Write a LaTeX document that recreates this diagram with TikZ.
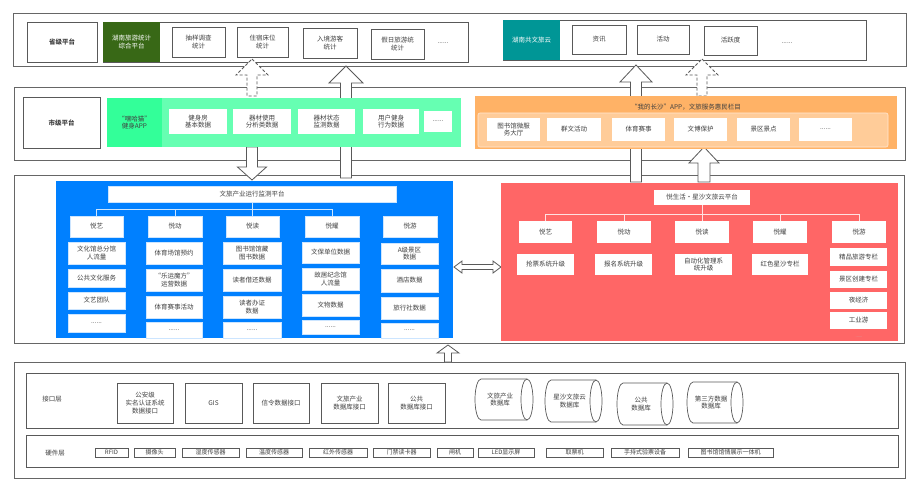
\documentclass[tikz,border=0pt]{standalone}
\usepackage{fontspec}
\setmainfont{Noto Sans CJK SC}
\definecolor{txt}{HTML}{404040}
\definecolor{frm}{HTML}{666666}
\definecolor{bgray}{HTML}{595959}
\definecolor{dgreen}{RGB}{56,104,22}
\definecolor{teal1}{RGB}{0,150,150}
\definecolor{bgreen}{RGB}{51,255,153}
\definecolor{lgreen}{RGB}{102,255,178}
\definecolor{orange1}{RGB}{255,178,102}
\definecolor{orange2}{RGB}{255,204,153}
\definecolor{orange3}{RGB}{255,232,210}
\definecolor{blue1}{RGB}{0,128,255}
\definecolor{red1}{RGB}{255,102,102}
\definecolor{btree}{RGB}{204,229,255}
\definecolor{ctree}{RGB}{255,225,225}
\newcommand\fs{\fontsize{6.5}{7.8}\selectfont}
\newcommand\hs{\fontsize{6}{7}\selectfont}
\newcommand\bx[7]{\node[#6,minimum width={(#4)-(#2)},minimum height={(#5)-(#3)}] (#1) at ({((#2)+(#4))/2},{((#3)+(#5))/2}) {#7};}
\newcommand\varr[7]{\draw[#7] (#1,#2) -- ({#1+#5},#3) -- ({#1+#6},#3) -- ({#1+#6},#4) -- ({#1-#6},#4) -- ({#1-#6},#3) -- ({#1-#5},#3) -- cycle;}
\newcommand\cyl[6]{%
  \draw[wb] ({#4-6},#3) -- ({#2+6},#3) arc[start angle=90,end angle=270,x radius=6pt,y radius={((#5)-(#3))/2*1pt}] -- ({#4-6},#5);
  \draw[wb] ({#4-6},{((#3)+(#5))/2}) ellipse[x radius=6pt,y radius={((#5)-(#3))/2*1pt}];
  \node (#1) at ({((#2)+(#4))/2-4},{((#3)+(#5))/2}) {#6};}
\begin{document}
\begin{tikzpicture}[x=1pt,y=-1pt,
  every node/.style={font=\fs,text=txt,inner sep=0pt,outer sep=0pt,align=center},
  frame/.style={draw=frm,line width=0.9pt,fill=white},
  wb/.style={draw=bgray,line width=0.7pt,fill=white},
  pb/.style={fill=white},
  bb/.style={fill=white,draw=btree,line width=0.5pt},
  hb/.style={wb,line width=0.8pt,font=\hs},
  harr/.style={draw=bgray,fill=white,line width=0.8pt},
  darr/.style={harr,dash pattern=on 3pt off 2pt},
  btl/.style={draw=btree,line width=0.8pt},
  ctl/.style={draw=ctree,line width=0.8pt}]
\useasboundingbox (0,0) rectangle (921,491);
\fill[white] (0,0) rectangle (921,491);
% frames
\bx{fTop}{13}{13}{906}{66}{frame}{}
\bx{fMid}{14}{87}{905}{160}{frame}{}
\bx{fThird}{14}{175}{904}{343}{frame}{}
\bx{fBot}{14}{362}{905}{478}{frame}{}
% top contents
\bx{sj}{27}{22}{97}{62}{wb,font=\fs\bfseries}{省级平台}
\bx{tinL}{103}{22}{468}{62}{wb}{}
\bx{hn}{103}{22}{160}{62}{fill=dgreen,text=white}{湖南旅游统计\\综合平台}
\bx{t1}{172}{27}{225}{57}{wb}{抽样调查\\统计}
\bx{t2}{237}{27}{288}{57}{wb}{住宿床位\\统计}
\bx{t3}{303}{28}{357}{58}{wb}{入境游客\\统计}
\bx{t4}{371}{29}{424}{59}{wb}{假日旅游统\\统计}
\node (t5) at (443,43) {......};
\bx{tinR}{503}{20}{866}{60}{wb}{}
\bx{gw}{503}{20}{560}{60}{fill=teal1,text=white}{湖南共文旅云}
\bx{r1}{572}{25}{626}{54}{wb}{资讯}
\bx{r2}{637}{25}{689}{54}{wb}{活动}
\bx{r3}{704}{26}{757}{55}{wb}{活跃度}
\node (r4) at (787,43) {......};
% block arrows
\varr{252}{59}{75}{96}{16}{5}{darr}
\varr{346}{66}{83}{178}{17}{5.5}{harr}
\varr{636}{65}{82}{182}{16}{5.5}{harr}
\varr{702}{59}{75}{96}{16}{5}{darr}
\varr{252}{180}{167}{147}{14.5}{5.5}{harr}
\varr{704}{147}{163}{182}{15}{6}{harr}
\varr{448}{345}{353}{362}{11}{3.5}{harr}
\draw[harr] (454,267) -- (462,261) -- (462,264.5) -- (493,264.5) -- (493,261) -- (501,267) -- (493,273) -- (493,269.5) -- (462,269.5) -- (462,273) -- cycle;
% middle contents
\bx{sj2}{23}{97}{100}{148}{wb,font=\fs\bfseries}{市级平台}
\bx{gp}{162}{98}{461}{147}{fill=lgreen}{}
\bx{hh}{107}{98}{162}{147}{fill=bgreen}{“嘿哈猫”\\健身APP}
\bx{m1}{169}{109}{227}{134}{pb}{健身房\\基本数据}
\bx{m2}{233}{109}{291}{134}{pb}{器材使用\\分析类数据}
\bx{m3}{298}{109}{355}{134}{pb}{器材状态\\监测数据}
\bx{m4}{363}{109}{419}{134}{pb}{用户健身\\行为数据}
\bx{m5}{424}{111}{452}{132}{pb}{......}
\bx{op}{475}{96}{897}{149}{fill=orange1}{}
\node (ot) at (686,107) {“我的长沙”APP，文旅服务惠民栏目};
\bx{oi}{478}{113}{888}{147}{fill=orange2,draw=orange3,line width=0.6pt,rounded corners=2pt}{}
\bx{o1}{487}{118}{540}{141}{pb}{图书馆微服\\务大厅}
\bx{o2}{547}{118}{601}{141}{pb}{群文活动}
\bx{o3}{612}{118}{665}{141}{pb}{体育赛事}
\bx{o4}{674}{118}{727}{141}{pb}{文博保护}
\bx{o5}{737}{118}{790}{141}{pb}{景区景点}
\bx{o6}{799}{118}{852}{141}{pb}{......}
% blue panel
\bx{bp}{56}{181}{453}{338}{fill=blue1}{}
\bx{bt}{108}{186}{396}{202}{bb}{文旅产业运行监测平台}
\bx{b1}{70}{216}{123}{237}{bb}{悦艺}
\bx{b2}{148}{216}{202}{237}{bb}{悦动}
\bx{b3}{226}{216}{279}{237}{bb}{悦读}
\bx{b4}{305}{216}{359}{237}{bb}{悦耀}
\bx{b5}{383}{216}{437}{237}{bb}{悦游}
\coordinate (bj) at (252,209);
\draw[btl] (bt.south) -- (bj);
\draw[btl] (bj) -| (b1.north);
\draw[btl] (bj) -| (b2.north);
\draw[btl] (bj) -| (b3.north);
\draw[btl] (bj) -| (b4.north);
\bx{b11}{68}{242}{125}{264}{bb}{文化馆总分馆\\人流量}
\bx{b12}{68}{269}{125}{287}{bb}{公共文化服务}
\bx{b13}{68}{292}{125}{309}{bb}{文艺团队}
\bx{b14}{68}{314}{125}{332}{bb}{......}
\bx{b21}{146}{242}{202}{264}{bb}{体育场馆预约}
\bx{b22}{146}{269}{202}{291}{bb}{“乐运魔方”\\运营数据}
\bx{b23}{146}{296}{202}{318}{bb}{体育赛事活动}
\bx{b24}{146}{322}{202}{338}{bb}{......}
\bx{b31}{223}{242}{281}{264}{bb}{图书馆馆藏\\图书数据}
\bx{b32}{223}{269}{281}{291}{bb}{读者借还数据}
\bx{b33}{223}{296}{281}{318}{bb}{读者办证\\数据}
\bx{b34}{223}{322}{281}{338}{bb}{......}
\bx{b41}{302}{242}{359}{263}{bb}{文保单位数据}
\bx{b42}{302}{268}{359}{290}{bb}{故居纪念馆\\人流量}
\bx{b43}{302}{294}{359}{316}{bb}{文物数据}
\bx{b44}{302}{320}{359}{334}{bb}{......}
\bx{b51}{381}{243}{438}{264}{bb}{A级景区\\数据}
\bx{b52}{381}{269}{438}{292}{bb}{酒店数据}
\bx{b53}{381}{297}{438}{319}{bb}{旅行社数据}
\bx{b54}{381}{323}{438}{338}{bb}{......}
% red panel
\bx{rp}{501}{183}{898}{341}{fill=red1}{}
\bx{rt}{654}{190}{750}{205}{pb}{悦生活·星沙文旅云平台}
\bx{c1}{519}{221}{572}{243}{pb}{悦艺}
\bx{c2}{597}{221}{651}{243}{pb}{悦动}
\bx{c3}{675}{221}{729}{243}{pb}{悦读}
\bx{c4}{753}{221}{807}{243}{pb}{悦耀}
\bx{c5}{832}{221}{886}{243}{pb}{悦游}
\coordinate (cj) at (702,214);
\draw[ctl] (rt.south) -- (cj);
\draw[ctl] (cj) -| (c1.north);
\draw[ctl] (cj) -| (c2.north);
\draw[ctl] (cj) -| (c3.north);
\draw[ctl] (cj) -| (c4.north);
\draw[ctl] (cj) -| (c5.north);
\bx{c11}{517}{254}{574}{275}{pb}{抢票系统升级}
\bx{c21}{595}{254}{652}{275}{pb}{报名系统升级}
\bx{c31}{675}{254}{732}{275}{pb}{自动化管理系\\统升级}
\bx{c41}{752}{254}{808}{275}{pb}{红色星沙专栏}
\bx{c51}{830}{248}{887}{266}{pb}{精品旅游专栏}
\bx{c52}{830}{271}{887}{288}{pb}{景区创建专栏}
\bx{c53}{830}{292}{887}{309}{pb}{夜经济}
\bx{c54}{830}{312}{887}{329}{pb}{工业游}
\node[font=\fontsize{4}{4}\selectfont,text=white!75!black] (c55) at (859,337) {......};
% bottom layers
\bx{ifr}{26}{373}{898}{428}{wb}{}
\node (il) at (52,399) {接口层};
\bx{i1}{117}{383}{173}{423}{wb}{公安级\\实名认证系统\\数据接口}
\bx{i2}{185}{383}{242}{423}{wb}{GIS}
\bx{i3}{253}{383}{309}{423}{wb}{信令数据接口}
\bx{i4}{321}{383}{378}{423}{wb}{文旅产业\\数据库接口}
\bx{i5}{388}{383}{445}{423}{wb}{公共\\数据库接口}
\cyl{d1}{475}{379}{533}{420}{文旅产业\\数据库}
\cyl{d2}{545}{380}{602}{422}{星沙文旅云\\数据库}
\cyl{d3}{617}{383}{673}{425}{公共\\数据库}
\cyl{d4}{687}{382}{743}{423}{第三方数据\\数据库}
\bx{hfr}{26}{435}{898}{467}{wb}{}
\node (hl) at (55,453) {硬件层};
\bx{h1}{95}{448}{128}{457}{hb}{RFID}
\bx{h2}{134}{448}{175}{457}{hb}{摄像头}
\bx{h3}{182}{448}{239}{457}{hb}{湿度传感器}
\bx{h4}{246}{448}{302}{457}{hb}{温度传感器}
\bx{h5}{309}{448}{367}{457}{hb}{红外传感器}
\bx{h6}{373}{448}{430}{457}{hb}{门禁读卡器}
\bx{h7}{437}{448}{473}{457}{hb}{闸机}
\bx{h8}{478}{448}{534}{457}{hb}{LED显示屏}
\bx{h9}{546}{448}{603}{457}{hb}{取票机}
\bx{h10}{611}{448}{679}{457}{hb}{手持式验票设备}
\bx{h11}{688}{448}{773}{457}{hb}{图书馆馆情展示一体机}
\end{tikzpicture}
\end{document}
